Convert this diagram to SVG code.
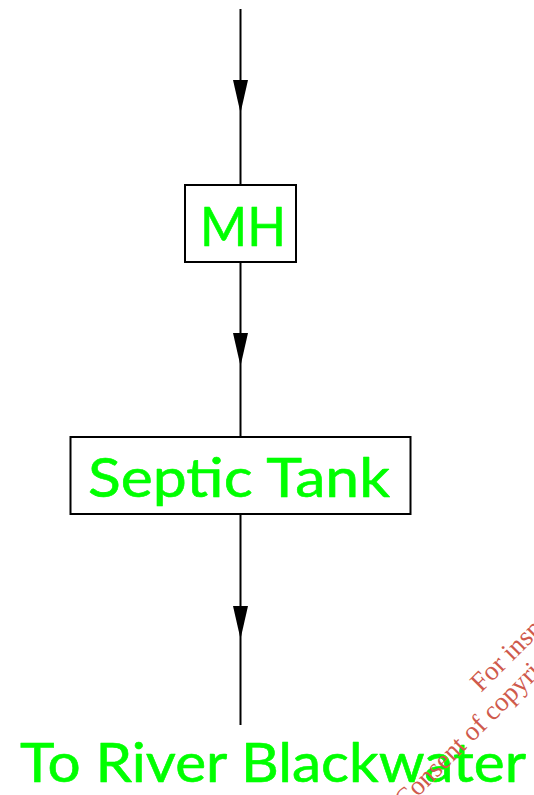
<svg xmlns="http://www.w3.org/2000/svg" width="534" height="795" viewBox="0 0 534 795">
<defs>
<path id="arrowhead" d="M-7.500 0H7.500L0 33Z" fill="#000"/>
</defs>
<style>
.box{fill:#fff;stroke:#000;stroke-width:2}
.line{stroke:#000;stroke-width:2;fill:none}
.label{font-family:"Lato","Noto Sans",sans-serif;font-weight:400;fill:#00ff00;stroke:#00ff00;stroke-width:0.6;stroke-linejoin:round;stroke-linecap:round}
.mark{font-family:"Liberation Serif",serif;font-size:27px;fill:#cf5a4c}
</style>
<rect width="534" height="795" fill="#fff"/>
<g id="connectors">
<path class="line" d="M240.500 9V185"/>
<use href="#arrowhead" x="240.500" y="80"/>
<path class="line" d="M240.500 262V437"/>
<use href="#arrowhead" x="240.500" y="333"/>
<path class="line" d="M240.500 514V725"/>
<use href="#arrowhead" x="240.500" y="606"/>
</g>
<g id="node-mh">
<rect class="box" x="185" y="185" width="111" height="77"/>
<text class="label" x="200" y="246" font-size="55" textLength="86" lengthAdjust="spacingAndGlyphs">MH</text>
</g>
<g id="node-septic-tank">
<rect class="box" x="70.500" y="437" width="340" height="77"/>
<text class="label" x="88" y="497" font-size="55" textLength="302" lengthAdjust="spacingAndGlyphs">Septic Tank</text>
</g>
<g id="node-river">
<text class="label" x="20" y="782" font-size="55" textLength="506" lengthAdjust="spacingAndGlyphs">To River Blackwater</text>
</g>
<g id="watermark">
<text class="mark" transform="translate(481 693) rotate(-45)">For insp</text>
<text class="mark" transform="translate(405 810) rotate(-45)">Consent of copyri</text>
</g>
</svg>
